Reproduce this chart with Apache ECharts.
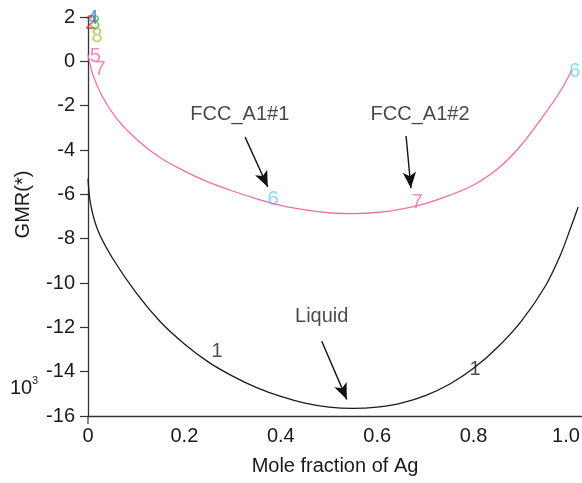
<!DOCTYPE html>
<html>
<head>
<meta charset="utf-8">
<script src="https://cdn.jsdelivr.net/npm/echarts@6/dist/echarts.min.js"></script>
<style>
  html, body { margin: 0; padding: 0; background: #fff; }
  #chart { width: 582px; height: 483px; }
</style>
</head>
<body>
<div id="chart"></div>
<script>
// Liquid (black) curve, GMR in 10^3
const liquidX = [0, 0.005, 0.02, 0.05, 0.1, 0.15, 0.2, 0.25, 0.3, 0.35, 0.4, 0.45, 0.5, 0.55, 0.6, 0.65, 0.7, 0.75, 0.8, 0.85, 0.9, 0.95, 0.98, 1.0, 1.017]
const liquidY = [-5.3, -6.4, -7.6, -8.85, -10.45, -11.75, -12.75, -13.57, -14.2, -14.72, -15.12, -15.42, -15.6, -15.66, -15.6, -15.42, -15.08, -14.57, -13.85, -12.9, -11.7, -10.1, -8.75, -7.6, -6.57]
// FCC_A1 (pink) curve
const fccX = [0, 0.01, 0.03, 0.06, 0.1, 0.15, 0.2, 0.25, 0.3, 0.35, 0.4, 0.45, 0.5, 0.55, 0.6, 0.65, 0.7, 0.75, 0.8, 0.85, 0.9, 0.95, 0.98, 1.004]
const fccY = [0.3, -0.6, -1.6, -2.6, -3.5, -4.35, -4.95, -5.45, -5.85, -6.2, -6.5, -6.7, -6.83, -6.87, -6.82, -6.67, -6.42, -6.05, -5.58, -4.85, -3.75, -2.3, -1.35, -0.4]

const xTicks = [0, 0.2, 0.4, 0.6, 0.8, 1.0]

// curve labels (text, x, y, color)
const tagText = ['1', '1', '6', '6', '7', '7', '5', '8', '2', '3', '4']
const tagX = [0.268, 0.803, 0.384, 1.01, 0.683, 0.025, 0.015, 0.019, 0.006, 0.014, 0.010]
const tagY = [-13.08, -13.89, -6.22, -0.48, -6.35, -0.35, 0.24, 1.14, 1.70, 1.70, 1.95]
const tagColor = ['#222', '#222', '#6dcff6', '#6dcff6', '#f06ea9', '#f06ea9', '#f06ea9', '#bdb64a', '#e8262b', '#5cb85c', '#2f7fc1']

// phase names with arrows
const noteText = ['FCC_A1#1', 'FCC_A1#2', 'Liquid']
const noteX = [0.315, 0.689, 0.485]
const noteY = [-2.38, -2.38, -11.5]
const arrowFrom = [[0.326, -3.42], [0.660, -3.37], [0.485, -12.63]]
const arrowTo = [[0.373, -5.67], [0.670, -5.72], [0.537, -15.25]]

const font = 'Liberation Sans, Arial, Helvetica, sans-serif'

const zip = (xs, ys) => xs.map((x, i) => [x, ys[i]])

let myChart = echarts.init(document.getElementById('chart'))
myChart.setOption({
  animation: false,
  grid: { left: 88, right: 0, top: 17, bottom: 67, outerBoundsMode: 'none' },
  xAxis: {
    type: 'value',
    min: 0,
    max: 1.025,
    interval: 0.2,
    name: 'Mole fraction of Ag',
    nameLocation: 'middle',
    nameGap: 40,
    nameTextStyle: { fontFamily: font, fontSize: 20, color: '#1a1a1a' },
    axisLine: { onZero: false, lineStyle: { color: '#333', width: 1.3 } },
    axisTick: { show: false },
    splitLine: { show: false },
    axisLabel: {
      margin: 10,
      fontFamily: font,
      fontSize: 20,
      color: '#1a1a1a',
      formatter: v => {
        if (v > 1.001) return ''
        if (v > 0.999) return '{last|1.0}'
        return v === 0 ? '0' : v.toFixed(1)
      },
      rich: { last: { fontFamily: font, fontSize: 20, color: '#1a1a1a', padding: [0, 8, 0, 0] } }
    }
  },
  yAxis: {
    type: 'value',
    min: -16,
    max: 2,
    interval: 2,
    name: 'GMR(*)',
    nameLocation: 'middle',
    nameGap: 55,
    nameTextStyle: { fontFamily: font, fontSize: 20, color: '#1a1a1a', padding: [0, 0, 0, 24] },
    axisLine: { lineStyle: { color: '#333', width: 1.3 } },
    axisTick: { length: 8, lineStyle: { color: '#333', width: 1.2 } },
    splitLine: { show: false },
    axisLabel: { margin: 13, fontFamily: font, fontSize: 20, color: '#1a1a1a' }
  },
  series: [
    {
      name: 'Liquid',
      type: 'line',
      data: zip(liquidX, liquidY),
      smooth: 0.3,
      clip: false,
      symbol: 'none',
      lineStyle: { color: '#1a1a1a', width: 1.3 }
    },
    {
      name: 'FCC_A1',
      type: 'line',
      data: zip(fccX, fccY),
      smooth: 0.3,
      clip: false,
      symbol: 'none',
      lineStyle: { color: '#f06ea9', width: 1.3 }
    },
    {
      name: 'tags',
      type: 'scatter',
      clip: false,
      symbolSize: 0,
      data: tagText.map((t, i) => ({
        value: [tagX[i], tagY[i]],
        label: { show: true, position: 'inside', formatter: t, color: tagColor[i], fontFamily: font, fontSize: 20 }
      })),
      silent: true
    },
    {
      name: 'notes',
      type: 'scatter',
      clip: false,
      symbolSize: 0,
      data: noteText.map((t, i) => ({
        value: [noteX[i], noteY[i]],
        label: { show: true, position: 'inside', formatter: t, color: '#1a1a1a', fontFamily: font, fontSize: 20 }
      })),
      markLine: {
        silent: true,
        symbol: ['none', 'arrow'],
        symbolSize: [10, 16],
        label: { show: false },
        lineStyle: { color: '#111', width: 1.4, type: 'solid' },
        data: arrowFrom.map((f, i) => [{ coord: f }, { coord: arrowTo[i] }])
      }
    }
  ],
  graphic: [
    { type: 'text', left: 10, top: 378, style: { text: '10', font: '20px ' + font, fill: '#1a1a1a' } },
    { type: 'text', left: 32, top: 375, style: { text: '3', font: '11px ' + font, fill: '#1a1a1a' } },
    { type: 'line', shape: { x1: 88, y1: 416, x2: 88, y2: 424 }, style: { stroke: '#333', lineWidth: 1.2 } }
  ]
})
</script>
</body>
</html>
